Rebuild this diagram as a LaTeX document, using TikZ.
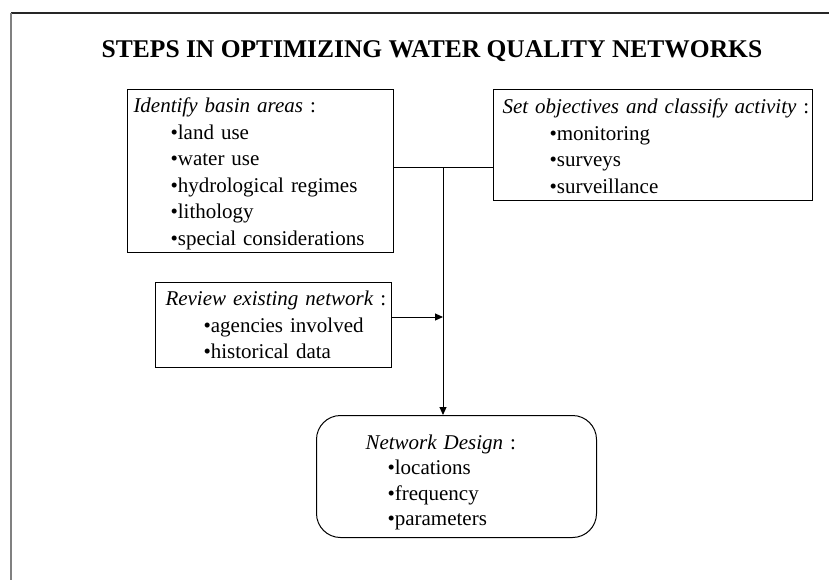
\documentclass[tikz,border=0pt]{standalone}
\usepackage{fontspec}
\setmainfont{Liberation Serif}
\usetikzlibrary{arrows.meta}
\begin{document}
\begin{tikzpicture}[x=1pt,y=-1pt,
  box/.style={draw, line width=1pt, anchor=north west, align=left, inner ysep=0pt,
    font=\fontsize{21}{26.5}\selectfont},
  conn/.style={line width=1pt},
  arr/.style={line width=1pt, -{Triangle[length=8pt,width=7pt]}},
  titletext/.style={font=\fontsize{25.5}{30}\selectfont\bfseries, anchor=base, inner sep=0pt}]
\useasboundingbox (0,0) rectangle (829,580);
% frame
\draw[line width=1.5pt, black!85] (11,13) -- (829,13);
\draw[line width=1.5pt, gray] (11,13) -- (11,580);
% title
\node[titletext] (title) at (432,58) {STEPS IN OPTIMIZING WATER QUALITY NETWORKS};
% boxes
\node[box, inner xsep=6pt, text width=254pt, minimum height=163pt] (basin) at (127,89)
 {\rule{0pt}{20pt}\mbox{\textit{Identify basin areas} :}\\
  \hspace*{37pt}•land use\\
  \hspace*{37pt}•water use\\
  \hspace*{37pt}•hydrological regimes\\
  \hspace*{37pt}•lithology\\
  \hspace*{37pt}•special considerations};
\node[box, inner xsep=9pt, text width=301pt, minimum height=111pt] (obj) at (493,89)
 {\rule{0pt}{17pt}\mbox{\textit{Set objectives and classify activity} :}\\
  \hspace*{47pt}•monitoring\\
  \hspace*{47pt}•surveys\\
  \hspace*{47pt}•surveillance};
\node[box, inner xsep=10pt, text width=216pt, minimum height=85pt] (review) at (155,282)
 {\mbox{\textit{Review existing network} :}\\
  \hspace*{38pt}•agencies involved\\
  \hspace*{38pt}•historical data};
\node[box, rounded corners=24pt, inner xsep=49pt, text width=182pt, minimum height=122pt,
  font=\fontsize{21}{25.5}\selectfont] (design) at (316,415)
 {\rule{0pt}{26pt}\mbox{\textit{Network Design} :}\\
  \hspace*{22pt}•locations\\
  \hspace*{22pt}•frequency\\
  \hspace*{22pt}•parameters};
% connectors
\coordinate (j) at (443,168);
\coordinate (r) at (443,317);
\draw[conn] (j -| basin.east) -- (j -| obj.west);
\draw[arr] (j) -- (j |- design.north);
\draw[arr] (r -| review.east) -- (r);
\end{tikzpicture}
\end{document}
